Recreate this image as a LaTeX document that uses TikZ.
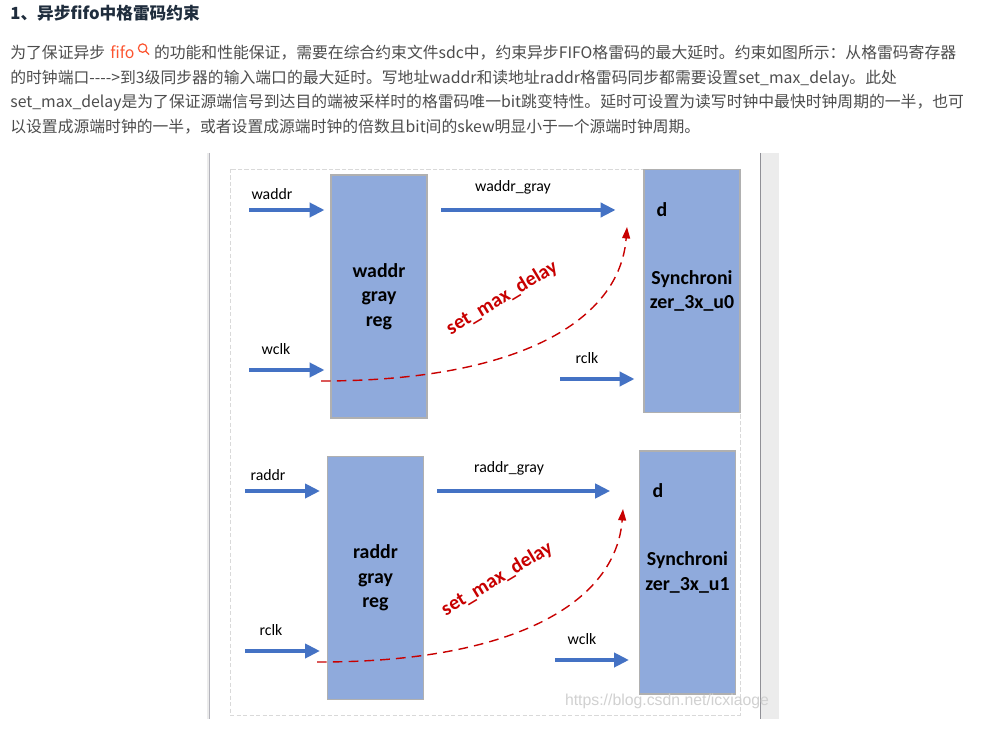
\documentclass[tikz,border=0pt]{standalone}
\usepackage{fontspec}
\setmainfont{Carlito}
\newfontfamily\cjk{Noto Sans CJK SC}
\newfontfamily\webfont{Liberation Sans}
\usetikzlibrary{arrows.meta, positioning}
\definecolor{boxblue}{HTML}{8FAADC}
\definecolor{boxedge}{HTML}{B0B0B0}
\definecolor{sigblue}{HTML}{4472C4}
\definecolor{delayred}{HTML}{C80000}
\definecolor{textgray}{HTML}{4D4D4D}
\definecolor{headnavy}{HTML}{1F2D3D}
\definecolor{csdnred}{HTML}{FC5531}
\definecolor{framegray}{HTML}{D9D9D9}
\definecolor{barlight}{HTML}{ECECEC}
\definecolor{baredge}{HTML}{B4B4BC}

\begin{document}
\begin{tikzpicture}[
  x=0.02cm, y=-0.02cm,
  reg/.style={rectangle, fill=boxblue, draw=boxedge, line width=0.6pt,
              minimum width=1.92cm, minimum height=4.86cm, inner sep=0pt,
              align=center, font=\bfseries\fontsize{11.3}{14}\selectfont},
  lbl/.style={font=\fontsize{9}{11}\selectfont},
  dlbl/.style={font=\bfseries\fontsize{11.3}{14}\selectfont},
  sig/.style={draw=sigblue, line width=2.1pt,
              -{Triangle[length=8.5pt, width=8pt]}},
  delay/.style={draw=delayred, line width=0.8pt, dash pattern=on 5.5pt off 3.5pt,
                -{Triangle[length=6.5pt, width=4.5pt]}},
  delaylbl/.style={text=delayred, font=\bfseries\fontsize{11.5}{14}\selectfont,
                   rotate=31},
  para/.style={inner sep=0pt, text=textgray, font=\cjk\fontsize{9}{11}\selectfont}
]
\useasboundingbox (0,0) rectangle (990,736);
\fill[white] (0,0) rectangle (990,736);

% page text
\node[anchor=base west, inner sep=0pt, text=headnavy,
      font=\cjk\bfseries\fontsize{9.5}{12}\selectfont] (title) at (10,20)
  {1、异步fifo中格雷码约束};
\node[para, anchor=base west] (p1a) at (10,59) {为了保证异步};
\node[para, text=csdnred, base right=2.5pt of p1a] (fifo) {fifo};
\coordinate (lens) at ([xshift=4.5pt, yshift=6.2pt]fifo.base east);
\draw[csdnred, line width=0.7pt] (lens) circle[radius=2.4pt];
\draw[csdnred, line width=0.7pt] ([shift={(1.7pt,-1.7pt)}]lens) -- ++(2pt,-2pt);
\node[para, base right=10.8pt of fifo] (p1b)
  {的功能和性能保证，需要在综合约束文件sdc中，约束异步FIFO格雷码的最大延时。约束如图所示：从格雷码寄存器};
\node[para, anchor=base west] (p2) at (10,83.5)
  {的时钟端口-{}-{}-{}-{}>到3级同步器的输入端口的最大延时。写地址waddr和读地址raddr格雷码同步都需要设置set\_max\_delay。此处};
\node[para, anchor=base west] (p3) at (10,108)
  {set\_max\_delay是为了保证源端信号到达目的端被采样时的格雷码唯一bit跳变特性。延时可设置为读写时钟中最快时钟周期的一半，也可};
\node[para, anchor=base west] (p4) at (10,132.5)
  {以设置成源端时钟的一半，或者设置成源端时钟的倍数且bit间的skew明显小于一个源端时钟周期。};

% picture frame
\fill[barlight] (207,153) rectangle (210,719);
\draw[baredge, line width=0.6pt] (209.5,153) -- (209.5,719);
\fill[barlight] (760,153) rectangle (779,719);
\draw[baredge!80!black, line width=0.8pt] (760.5,153) -- (760.5,719);
\draw[framegray, line width=0.5pt, dash pattern=on 2.5pt off 1.2pt]
  (230,169) rectangle (740,715);

% write side
\node[reg] (wreg) at (379,296.5) {waddr\\gray\\reg};
\node[reg] (sync0) at (692,291) {Synchroni\\zer\_3x\_u0};
\node[dlbl] (d0) at (662,210) {d};

\coordinate (wa-in) at (249,210);
\coordinate (wc-in) at (249,370);
\coordinate (rc-in0) at (560,379);
\node[lbl] (waddr) at (272,194) {waddr};
\node[lbl] (wclk) at (276,349) {wclk};
\node[lbl] (wgray) at (513,187) {waddr\_gray};
\node[lbl] (rclk0) at (587,358) {rclk};

\draw[sig, shorten >=3.4pt] (wa-in) -- (wa-in -| wreg.west);
\draw[sig, shorten >=3.4pt] (wc-in) -- (wc-in -| wreg.west);
\draw[sig, shorten <=7.9pt, shorten >=15.9pt] (wreg.east |- wa-in) -- (sync0.west |- wa-in);
\draw[sig, shorten >=5.1pt] (rc-in0) -- (rc-in0 -| sync0.west);

\coordinate (wd-from) at (321,381);
\coordinate (wd-to) at (627,227);
\draw[delay] (wd-from) .. controls (520,381) and (620,320) .. (wd-to);
\node[delaylbl] (wdelay) at (502,298) {set\_max\_delay};

% read side
\node[reg] (rreg) at (375.5,578) {raddr\\gray\\reg};
\node[reg] (sync1) at (687.5,572.5) {Synchroni\\zer\_3x\_u1};
\node[dlbl] (d1) at (658,491) {d};

\coordinate (ra-in) at (245,491);
\coordinate (rc-in) at (245,651);
\coordinate (wc-in1) at (555,660);
\node[lbl] (raddr) at (268,475) {raddr};
\node[lbl] (rclk) at (271,630) {rclk};
\node[lbl] (rgray) at (509,468) {raddr\_gray};
\node[lbl] (wclk1) at (582,639) {wclk};

\draw[sig, shorten >=4pt] (ra-in) -- (ra-in -| rreg.west);
\draw[sig, shorten >=4pt] (rc-in) -- (rc-in -| rreg.west);
\draw[sig, shorten <=7.4pt, shorten >=16.4pt] (rreg.east |- ra-in) -- (sync1.west |- ra-in);
\draw[sig, shorten >=5.7pt] (wc-in1) -- (wc-in1 -| sync1.west);

\coordinate (rd-from) at (317,662);
\coordinate (rd-to) at (623,509);
\draw[delay] (rd-from) .. controls (516,662.5) and (616,601.5) .. (rd-to);
\node[delaylbl] (rdelay) at (497,579) {set\_max\_delay};

% watermark
\node[font=\webfont\fontsize{9}{11}\selectfont, text=black!18] (mark) at (667,701)
  {https://blog.csdn.net/icxiaoge};
\end{tikzpicture}
\end{document}
